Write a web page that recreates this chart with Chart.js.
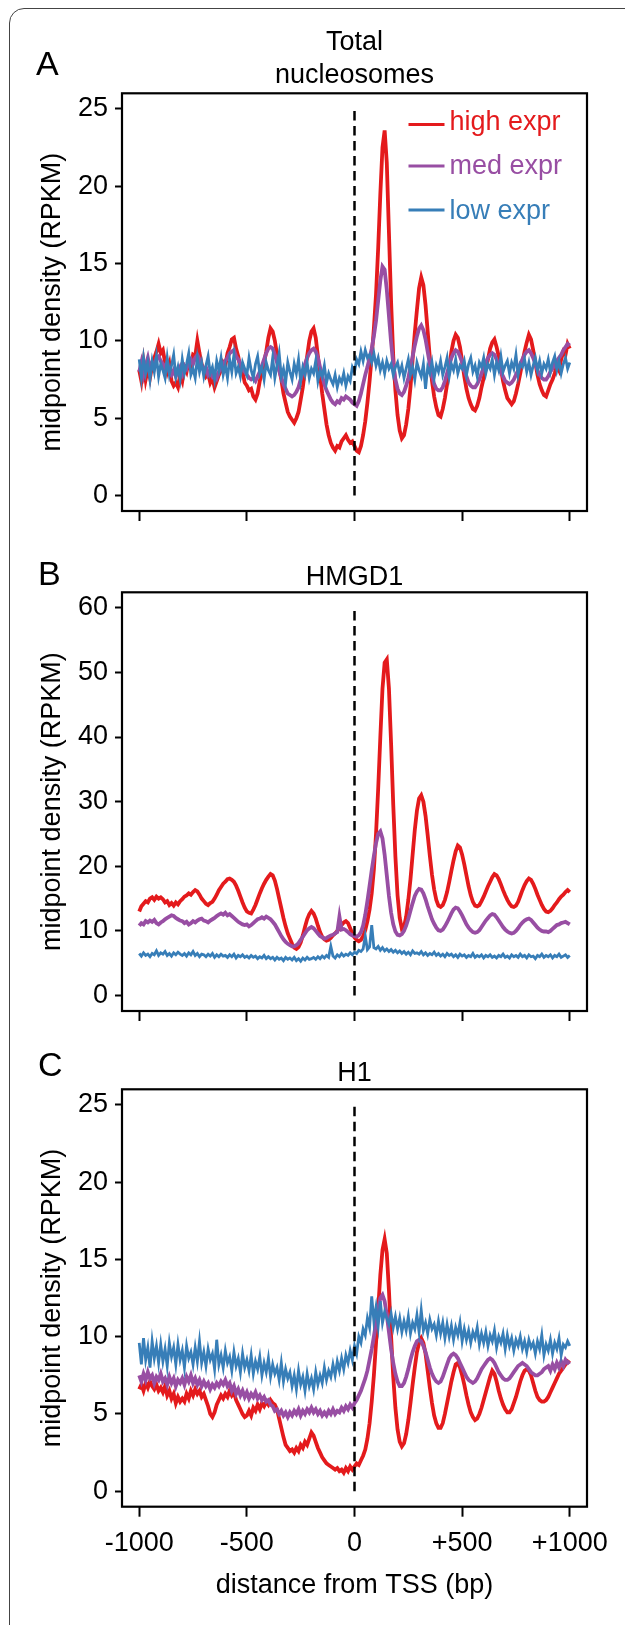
<!DOCTYPE html>
<html><head><meta charset="utf-8">
<script src="https://cdn.jsdelivr.net/npm/chart.js@4.4.1/dist/chart.umd.min.js"></script>
<style>
html,body{margin:0;padding:0;background:#fff;overflow:hidden;width:625px;height:1625px;}
#frame{position:absolute;left:9px;top:8px;width:640px;height:1700px;border:1.2px solid #444;border-radius:15px;}
canvas{position:absolute;left:0;}
</style></head><body>
<div id="frame"></div>
<canvas id="cA" width="625" height="540" style="top:0px"></canvas>
<canvas id="cB" width="625" height="500" style="top:540px"></canvas>
<canvas id="cC" width="625" height="585" style="top:1040px"></canvas>
<script>
// x grid: distance from TSS in bp, every 10 bp
const positions = Array.from({length: 201}, (_, i) => -1000 + 10 * i);
const seriesLabels = ['high expr', 'med expr', 'low expr'];
const xTickValues = [-1000, -500, 0, 500, 1000];
const xTickLabels = ['-1000', '-500', '0', '+500', '+1000'];
const yTicksA = [0, 5, 10, 15, 20, 25];
const yTicksB = [0, 10, 20, 30, 40, 50, 60];
const yTicksC = [0, 5, 10, 15, 20, 25];

// Panel A: Total nucleosomes
const totalHigh = [
8.1,7.4,8.6,7.5,8.2,7.6,8.4,8.9,9.3,9.8,
9.2,9.4,8.6,8.0,8.5,7.4,7.1,7.3,7.0,7.8,
7.4,8.3,8.0,8.7,8.4,9.1,9.0,10.0,9.2,8.5,
8.1,7.7,7.9,7.3,7.6,7.0,7.4,7.8,8.1,8.6,
8.4,9.2,9.6,10.1,10.2,9.5,9.0,8.2,8.0,7.3,
7.1,6.8,6.9,6.4,6.2,6.6,7.4,8.0,8.6,9.3,
10.2,10.8,10.6,10.0,9.1,8.2,7.5,6.6,6.0,5.4,
5.1,4.9,4.7,5.0,5.4,6.2,7.0,8.1,9.0,10.0,
10.6,10.8,10.2,9.0,7.8,6.6,5.6,4.6,3.9,3.4,
3.1,2.9,3.2,3.1,3.5,3.7,3.9,3.6,3.4,3.5,
3.2,2.9,2.8,3.2,3.9,4.8,6.0,7.4,9.0,10.8,
13.0,16.0,19.5,22.5,23.6,21.5,17.0,12.5,9.0,6.8,
5.2,4.2,3.7,3.9,4.6,5.6,7.0,8.8,10.5,12.0,
13.4,14.1,13.6,12.3,10.6,8.9,7.4,6.4,5.7,5.2,
5.1,5.6,6.3,7.2,8.2,9.3,10.0,10.4,10.2,9.6,
8.7,7.7,6.9,6.3,5.9,5.6,5.5,5.8,6.3,7.0,
7.6,8.2,8.8,9.5,9.9,10.1,9.6,9.0,8.2,7.4,
6.8,6.3,6.1,5.9,6.1,6.6,7.2,7.9,8.6,9.3,
9.9,10.4,10.1,9.4,8.6,7.8,7.2,6.8,6.5,6.4,
6.8,7.2,7.5,7.9,8.4,8.1,8.8,9.3,9.1,9.8,9.5];
const totalMed = [
8.0,8.6,7.8,8.4,8.9,8.2,8.6,8.3,8.9,9.0,
8.7,8.5,8.2,8.6,8.0,7.8,8.1,7.7,8.0,8.3,
7.9,8.4,8.2,8.6,8.8,8.5,8.9,9.1,8.8,8.4,
8.1,8.3,7.8,8.0,7.7,7.9,7.6,8.0,8.3,8.5,
8.7,8.9,9.2,9.3,9.4,9.0,8.8,8.5,8.2,8.0,
7.8,7.6,7.5,7.6,7.4,7.7,8.0,8.4,8.8,9.2,
9.5,9.6,9.5,9.1,8.6,8.1,7.6,7.2,6.9,6.6,
6.5,6.4,6.5,6.7,7.0,7.5,8.0,8.5,8.9,9.2,
9.4,9.5,9.3,8.9,8.3,7.7,7.2,6.8,6.5,6.2,
6.0,5.9,6.1,6.0,6.3,6.2,6.4,6.3,6.2,6.0,
5.9,5.8,6.1,6.6,7.2,7.8,8.3,8.9,9.5,10.3,
11.3,12.6,13.9,14.8,14.6,13.3,11.6,9.9,8.5,7.5,
6.9,6.6,6.5,6.7,7.1,7.6,8.3,9.0,9.7,10.3,
10.8,11.0,10.7,10.1,9.3,8.5,7.8,7.2,6.9,6.8,
6.8,7.0,7.4,7.9,8.4,8.9,9.2,9.4,9.3,9.0,
8.6,8.1,7.7,7.3,7.1,7.0,7.0,7.2,7.5,7.9,
8.3,8.6,8.9,9.1,9.2,9.1,8.8,8.4,8.0,7.7,
7.4,7.3,7.2,7.3,7.5,7.8,8.1,8.5,8.8,9.1,
9.3,9.4,9.2,8.9,8.5,8.1,7.8,7.6,7.5,7.5,
7.7,8.0,8.2,8.5,8.7,8.9,9.1,9.4,9.6,9.8,9.7];
const totalLow = [
8.8,7.6,8.9,7.9,8.6,7.5,8.7,8.0,9.0,7.7,
8.5,8.1,7.6,8.9,7.8,8.4,9.1,7.7,8.3,7.5,
8.8,7.9,8.5,9.2,7.8,8.2,7.6,8.9,8.0,8.6,
7.7,8.4,9.0,7.9,8.3,7.5,8.7,8.1,8.9,7.8,
8.4,7.6,8.8,8.0,9.1,7.9,8.3,7.7,8.6,8.2,
7.8,8.9,8.1,7.6,8.5,9.0,7.9,8.3,7.5,8.6,
8.1,7.8,8.9,7.6,8.4,9.2,7.7,8.2,7.3,8.6,
8.0,7.5,8.5,7.9,8.8,7.4,8.3,7.8,8.6,7.6,
8.2,7.9,8.7,7.4,8.1,7.7,8.4,7.3,7.9,7.5,
7.2,7.8,7.0,7.6,7.3,7.9,7.1,7.7,7.4,8.3,
8.0,8.8,8.5,9.3,8.7,9.4,8.9,9.1,8.6,9.2,
8.4,8.9,8.1,8.6,7.9,8.7,8.2,8.5,7.8,8.3,
8.6,7.9,8.4,7.6,8.2,8.8,7.8,8.3,7.5,8.6,
8.1,7.7,8.5,6.9,8.3,7.9,8.6,7.6,8.4,8.0,
8.7,7.8,8.3,8.9,7.7,8.5,8.1,8.8,7.9,8.4,
8.2,8.7,7.8,8.5,8.9,8.0,8.4,7.7,8.6,8.3,
8.9,7.9,8.5,8.2,8.8,7.8,8.6,8.1,9.0,8.0,
8.4,8.7,7.9,8.6,8.2,9.1,7.8,8.5,8.3,8.8,
8.0,8.6,7.8,8.4,8.9,8.1,8.7,7.9,8.5,8.2,
8.8,8.0,8.6,9.0,8.1,8.7,7.9,8.5,8.9,8.2,8.6];

// Panel B: HMGD1
const hmgdHigh = [
13.0,13.8,14.2,14.6,14.4,15.0,15.2,14.8,15.3,15.0,
15.2,14.9,14.4,14.6,14.0,14.3,13.9,14.4,14.1,14.6,
14.9,15.3,15.5,15.8,15.6,16.0,16.3,16.1,15.6,15.0,
14.6,14.2,14.0,14.3,14.5,15.0,15.6,16.3,16.8,17.3,
17.6,18.0,18.1,17.9,17.6,17.0,16.2,15.3,14.4,13.6,
13.0,12.8,12.7,13.3,14.0,14.9,15.8,16.6,17.3,17.9,
18.4,18.8,18.6,17.8,16.5,15.0,13.5,12.0,10.7,9.6,
8.8,8.0,7.4,7.2,7.5,8.2,9.3,10.6,11.8,12.6,
13.1,12.7,11.9,10.8,9.8,9.1,8.7,8.5,8.6,8.9,
9.3,9.6,10.0,10.4,10.9,11.3,11.5,11.2,10.4,9.6,
9.0,8.6,8.4,8.6,9.2,10.1,11.5,13.3,15.8,19.5,
25.0,32.0,40.0,47.5,51.5,52.0,47.5,39.0,29.5,21.5,
15.5,12.0,10.3,10.6,12.2,14.8,18.0,21.8,25.6,28.6,
30.5,31.0,30.0,27.8,24.8,21.6,18.7,16.4,14.8,13.9,
13.7,14.0,14.8,16.0,17.6,19.3,20.9,22.3,23.2,22.9,
21.8,20.3,18.6,16.9,15.5,14.5,13.9,13.8,14.0,14.6,
15.3,16.1,16.9,17.6,18.3,18.8,18.6,18.0,17.2,16.3,
15.5,14.8,14.2,13.8,13.7,13.9,14.5,15.4,16.3,17.1,
17.7,18.1,17.9,17.3,16.5,15.6,14.8,14.0,13.4,13.0,
12.9,13.1,13.5,14.0,14.4,14.9,15.3,15.6,16.0,16.3,16.0];
const hmgdMed = [
10.8,11.2,11.0,11.5,11.3,11.6,11.4,11.7,11.2,11.0,
11.3,11.5,11.8,12.0,12.2,12.4,12.3,12.0,11.8,11.6,
11.5,11.2,11.4,11.0,11.2,11.5,11.3,11.6,11.8,11.9,
11.6,11.5,11.3,11.6,11.8,12.0,12.3,12.5,12.7,12.5,
12.8,12.4,12.6,12.3,12.0,11.7,11.4,11.2,11.0,10.9,
11.0,10.7,10.9,11.2,11.5,11.8,11.9,12.1,11.9,12.2,
12.0,11.8,11.4,11.0,10.4,9.8,9.2,8.7,8.3,8.0,
7.8,7.6,7.6,7.8,8.1,8.6,9.1,9.6,10.1,10.4,
10.6,10.4,10.0,9.6,9.2,9.0,8.8,8.9,9.1,9.3,
9.4,9.6,9.8,12.2,10.2,10.3,10.1,9.8,9.5,9.3,
9.2,9.1,9.3,9.8,10.8,12.5,14.6,17.0,19.4,21.6,
23.6,25.0,25.4,24.3,21.8,18.6,15.4,12.8,11.0,9.9,
9.4,9.3,9.5,10.0,10.8,11.9,13.1,14.3,15.4,16.1,
16.5,16.4,15.8,14.9,13.8,12.8,11.8,11.1,10.5,10.1,
10.0,10.2,10.7,11.3,12.0,12.7,13.3,13.6,13.5,13.0,
12.4,11.7,11.0,10.5,10.1,9.8,9.7,9.8,10.1,10.6,
11.1,11.6,12.0,12.4,12.6,12.5,12.1,11.6,11.1,10.6,
10.2,9.9,9.7,9.6,9.7,10.0,10.4,10.9,11.3,11.6,
11.8,11.9,11.7,11.3,10.9,10.5,10.2,10.0,9.9,9.9,
9.8,10.0,10.3,10.6,10.9,11.0,11.2,11.3,11.4,11.2,11.0];
const hmgdLow = [
6.5,6.1,6.6,6.2,6.4,6.0,6.5,6.3,6.9,6.2,
6.6,6.4,6.8,6.2,6.5,6.1,6.6,6.3,6.7,6.4,
6.2,6.5,6.1,6.6,6.3,6.8,6.2,6.5,6.0,6.4,
6.3,6.0,6.4,6.1,6.5,5.9,6.3,6.0,6.4,6.1,
6.2,5.9,6.3,6.0,6.4,5.8,6.2,6.0,6.3,5.9,
6.1,5.8,6.2,5.9,6.1,5.7,6.0,5.8,6.2,5.7,
6.0,5.7,5.9,5.5,5.9,5.6,5.8,5.4,5.9,5.6,
5.8,5.5,5.9,5.4,5.7,5.3,5.8,5.5,5.9,5.6,
5.7,5.9,5.6,6.0,5.7,6.1,5.8,6.2,5.9,7.6,
6.1,5.8,6.3,6.0,6.5,6.1,6.4,6.2,6.6,6.3,
6.7,6.5,7.0,6.8,7.2,9.2,7.1,7.5,10.9,7.4,
7.2,7.6,7.0,7.4,6.9,7.2,6.8,7.1,6.7,7.0,
6.6,6.9,6.5,6.8,6.4,6.7,6.3,6.9,6.5,6.6,
6.4,6.8,6.3,6.6,6.2,6.5,6.3,6.7,6.2,6.5,
6.1,6.4,6.0,6.5,6.2,6.4,6.0,6.3,5.9,6.4,
6.1,6.3,5.9,6.2,6.0,6.5,5.9,6.2,6.0,6.3,
5.8,6.2,6.0,6.3,5.9,6.1,5.8,6.2,6.0,6.4,
5.9,6.1,5.8,6.3,6.0,6.2,5.9,6.4,6.0,6.2,
5.8,6.3,6.0,6.1,5.7,6.2,6.0,6.4,5.9,6.2,
6.0,6.3,5.8,6.2,6.0,6.4,5.9,6.1,6.3,5.9,6.2];

// Panel C: H1
const h1High = [
6.6,6.9,6.5,7.0,6.7,7.1,6.8,6.6,6.9,6.5,
6.7,6.4,6.8,6.2,6.5,6.0,6.3,5.7,6.1,5.8,
6.0,5.8,6.3,6.0,6.5,6.2,6.6,6.3,6.5,6.1,
6.3,5.9,5.5,5.0,4.8,5.1,5.6,5.9,6.2,6.0,
6.3,6.1,6.5,6.2,6.4,5.9,5.6,5.3,5.0,4.8,
4.9,5.2,4.9,5.4,5.2,5.6,5.3,5.7,5.5,5.8,
5.6,5.9,5.7,5.6,5.3,4.7,4.1,3.5,3.0,2.8,
2.6,2.7,2.5,2.8,2.6,3.0,2.8,3.2,3.0,3.4,
3.8,3.6,3.2,2.8,2.5,2.2,2.0,1.8,1.7,1.6,
1.5,1.4,1.5,1.3,1.4,1.2,1.5,1.3,1.6,1.4,
1.6,1.8,1.7,2.0,2.3,2.7,3.4,4.4,5.8,7.5,
9.6,11.8,14.0,15.6,16.3,15.4,13.0,10.0,7.4,5.4,
4.0,3.2,2.9,3.1,3.7,4.6,5.7,6.9,8.0,9.0,
9.6,9.9,9.6,8.9,7.8,6.7,5.7,4.9,4.4,4.1,
4.1,4.4,5.0,5.7,6.4,7.1,7.7,8.2,8.3,8.0,
7.5,6.9,6.2,5.6,5.1,4.8,4.6,4.7,5.0,5.4,
5.9,6.4,6.9,7.4,7.8,7.6,7.1,6.5,6.0,5.6,
5.3,5.1,5.1,5.3,5.7,6.1,6.6,7.1,7.5,7.8,
7.9,7.8,7.5,7.0,6.5,6.1,5.9,5.8,5.8,5.9,
6.1,6.4,6.7,7.0,7.3,7.6,7.8,8.0,8.2,8.4,8.3];
const h1Med = [
7.5,7.1,7.6,7.2,7.7,7.3,7.5,7.0,7.4,7.2,
7.6,7.1,7.3,6.9,7.4,7.0,7.3,6.8,7.2,7.0,
7.3,6.9,7.4,7.1,7.5,7.0,7.3,6.9,7.2,6.8,
7.1,6.8,7.0,6.6,6.9,6.7,7.0,6.8,7.1,6.9,
7.2,6.8,7.0,6.5,6.8,6.3,6.6,6.2,6.5,6.1,
6.4,6.0,6.3,6.1,6.4,6.0,6.2,5.9,6.1,5.8,
5.9,5.6,5.5,5.2,5.3,5.0,5.2,4.9,5.1,4.8,
5.1,4.9,5.2,5.0,5.3,4.9,5.2,5.0,5.3,5.1,
5.4,5.1,5.3,5.0,5.2,4.9,5.1,4.9,5.2,5.0,
5.3,5.0,5.2,5.1,5.4,5.2,5.5,5.3,5.6,5.4,
5.7,5.9,6.2,6.5,6.9,7.3,7.8,8.5,9.2,10.0,
10.9,11.8,12.5,12.7,12.3,11.4,10.3,9.2,8.3,7.6,
7.1,6.8,6.8,7.0,7.4,7.9,8.5,9.0,9.4,9.7,
9.8,9.7,9.4,9.0,8.5,8.0,7.6,7.3,7.1,7.0,
7.1,7.4,7.8,8.2,8.6,8.8,8.9,8.8,8.6,8.3,
8.0,7.7,7.4,7.2,7.1,7.0,7.1,7.3,7.6,7.9,
8.1,8.3,8.5,8.6,8.5,8.3,8.0,7.7,7.5,7.3,
7.2,7.2,7.3,7.5,7.7,7.9,8.1,8.2,8.3,8.2,
8.1,7.9,7.7,7.6,7.5,7.5,7.6,7.7,7.9,8.0,
8.1,7.8,8.2,7.9,8.3,8.0,8.4,8.1,8.5,8.3,8.4];
const h1Low = [
9.6,8.2,9.9,8.5,9.3,8.0,9.7,8.6,9.4,8.3,
9.5,8.4,9.2,8.1,9.6,8.7,9.3,8.2,9.5,8.5,
9.1,8.0,9.4,8.6,9.0,8.2,9.3,8.4,9.7,8.3,
9.0,8.1,9.2,8.5,8.9,7.9,9.8,8.2,8.8,8.0,
9.1,8.3,8.7,7.8,9.0,8.1,8.6,7.7,8.9,8.0,
8.5,7.8,8.8,7.6,8.4,7.9,8.7,7.5,8.3,7.7,
8.6,7.4,8.2,7.6,8.0,7.2,8.3,7.1,7.9,7.3,
7.7,6.8,7.5,6.6,7.8,6.9,7.4,6.5,7.6,6.8,
7.3,6.6,7.7,6.9,7.5,7.0,8.0,7.2,7.8,7.4,
8.2,7.5,8.4,7.8,8.6,7.9,8.8,8.3,9.1,8.5,
9.4,8.9,10.0,9.6,10.5,10.1,11.2,10.6,12.6,11.0,
11.9,10.7,12.3,10.9,11.6,11.2,10.8,11.5,10.6,11.3,
10.5,11.2,10.3,11.0,10.4,11.3,10.2,10.9,10.5,11.4,
10.3,11.7,10.4,10.9,10.2,11.1,10.5,10.8,10.1,11.0,
10.2,10.9,9.9,10.8,10.0,10.7,9.8,10.6,10.1,10.9,
9.7,10.5,9.8,10.4,9.6,10.3,9.9,10.6,9.5,10.2,
9.6,10.3,9.4,10.1,9.7,10.4,9.3,10.0,9.6,10.2,
9.2,10.1,9.4,9.9,9.1,9.8,9.4,10.0,9.2,9.7,
9.0,9.8,9.3,9.6,8.9,9.7,9.2,10.1,8.8,9.5,
9.1,9.8,8.9,9.6,9.2,9.9,8.8,9.5,9.3,9.7,9.4];

const COLORS = {high: '#E41A1C', med: '#984EA3', low: '#377EB8'};
const FONT = '"Liberation Sans", Arial, Helvetica, sans-serif';
Chart.defaults.font.family = FONT;
Chart.defaults.color = '#000';

const decorPlugin = {
  id: 'decor',
  afterDraw(chart, args, o) {
    const ctx = chart.ctx, a = chart.chartArea;
    ctx.save();
    ctx.strokeStyle = '#000';
    ctx.lineWidth = 2.2;
    ctx.strokeRect(a.left, a.top, a.right - a.left, a.bottom - a.top);
    ctx.fillStyle = '#000';
    ctx.textBaseline = 'alphabetic';
    ctx.textAlign = 'left';
    ctx.font = '34px ' + FONT;
    ctx.fillText(o.letter, o.letterX, o.letterY);
    ctx.font = '27px ' + FONT;
    ctx.textAlign = 'center';
    const cx = (a.left + a.right) / 2;
    o.title.forEach((t, i) => ctx.fillText(t, cx, o.titleY[i]));
    if (o.legend) {
      ctx.textAlign = 'left';
      o.legend.forEach((it) => {
        const ds = chart.data.datasets.find(d => d.label === it.label);
        ctx.strokeStyle = ds.borderColor;
        ctx.lineWidth = 2.8;
        ctx.beginPath();
        ctx.moveTo(o.legendX0, it.lineY);
        ctx.lineTo(o.legendX1, it.lineY);
        ctx.stroke();
        ctx.fillStyle = ds.borderColor;
        ctx.fillText(it.label, o.legendTextX, it.textY);
      });
    }
    ctx.restore();
  }
};

function makeChart(id, cfg) {
  const toPts = arr => arr.map((v, i) => ({x: positions[i], y: v}));
  const top = cfg.yTicks[cfg.yTicks.length - 1];
  const datasets = [
    {label: 'TSS', data: [{x: 0, y: 0}, {x: 0, y: top}], borderColor: '#000', borderWidth: 2.5, borderDash: [9.5, 5.5], pointRadius: 0},
    {label: seriesLabels[2], data: toPts(cfg.low), borderColor: COLORS.low, borderWidth: 2.8, pointRadius: 0},
    {label: seriesLabels[1], data: toPts(cfg.med), borderColor: COLORS.med, borderWidth: 3.8, pointRadius: 0},
    {label: seriesLabels[0], data: toPts(cfg.high), borderColor: COLORS.high, borderWidth: 3.8, pointRadius: 0}
  ];
  return new Chart(document.getElementById(id), {
    type: 'line',
    data: {datasets},
    options: {
      responsive: false,
      animation: false,
      devicePixelRatio: 1,
      layout: {padding: {top: cfg.padTop, right: 38, left: 0, bottom: 0}},
      plugins: {legend: {display: false}, tooltip: {enabled: false}, decor: cfg.decor},
      scales: {
        x: {
          type: 'linear', min: -1080, max: 1080,
          afterBuildTicks: s => { s.ticks = xTickValues.map(v => ({value: v})); },
          afterFit: s => { s.height = cfg.xHeight; },
          grid: {display: true, drawOnChartArea: false, drawTicks: true, tickLength: 10, tickWidth: 2, tickColor: '#000'},
          border: {display: false},
          ticks: {padding: 11, color: '#000', font: {size: 27}, maxRotation: 0, autoSkip: false,
            callback: v => { const i = xTickValues.indexOf(v); return (cfg.showX && i >= 0) ? xTickLabels[i] : ''; }},
          title: {display: cfg.showX, text: 'distance from TSS (bp)', color: '#000', font: {size: 27}, padding: {top: 0, bottom: 23}}
        },
        y: {
          type: 'linear', min: cfg.yMin, max: cfg.yMax,
          afterBuildTicks: s => { s.ticks = cfg.yTicks.map(v => ({value: v})); },
          afterFit: s => { s.width = 122; },
          grid: {display: true, drawOnChartArea: false, drawTicks: true, tickLength: 7, tickWidth: 2, tickColor: '#000'},
          border: {display: false},
          ticks: {padding: 7, color: '#000', font: {size: 27}, callback: v => String(v)},
          title: {display: true, text: 'midpoint density (RPKM)', color: '#000', font: {size: 27}, padding: {top: 36, bottom: 0}}
        }
      }
    },
    plugins: [decorPlugin]
  });
}

makeChart('cA', {
  high: totalHigh, med: totalMed, low: totalLow,
  yTicks: yTicksA, yMin: -1, yMax: 26, padTop: 93.3, xHeight: 29, showX: false,
  decor: {letter: 'A', letterX: 36, letterY: 75, title: ['Total', 'nucleosomes'], titleY: [49.5, 82.5],
    legendX0: 408.5, legendX1: 444.5, legendTextX: 449.5,
    legend: [
      {label: seriesLabels[0], lineY: 124.5, textY: 129.5},
      {label: seriesLabels[1], lineY: 166, textY: 174},
      {label: seriesLabels[2], lineY: 210, textY: 218.5}
    ]}
});
makeChart('cB', {
  high: hmgdHigh, med: hmgdMed, low: hmgdLow,
  yTicks: yTicksB, yMin: -2.4, yMax: 62.4, padTop: 52.3, xHeight: 29, showX: false,
  decor: {letter: 'B', letterX: 38, letterY: 45, title: ['HMGD1'], titleY: [44.5]}
});
makeChart('cC', {
  high: h1High, med: h1Med, low: h1Low,
  yTicks: yTicksC, yMin: -1, yMax: 26, padTop: 49.3, xHeight: 118.3, showX: true,
  decor: {letter: 'C', letterX: 38, letterY: 36, title: ['H1'], titleY: [41]}
});
</script>
</body></html>
